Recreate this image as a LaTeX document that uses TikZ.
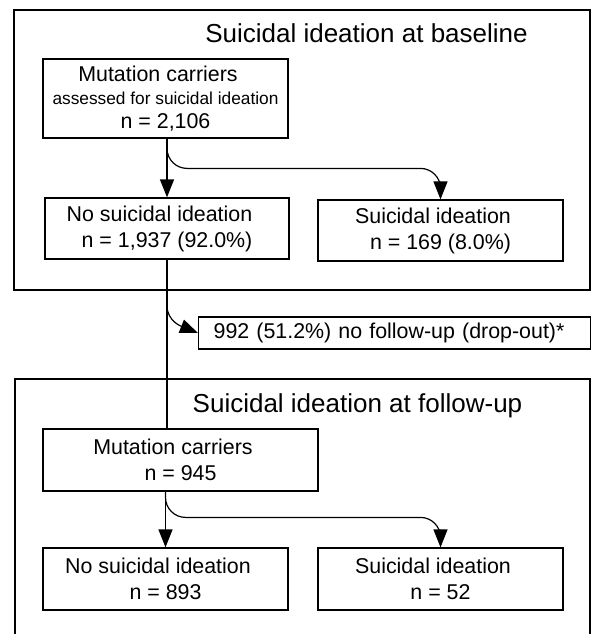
\documentclass[tikz,border=0pt]{standalone}
\usepackage{fontspec}
\setmainfont{Liberation Sans}
\usetikzlibrary{arrows.meta}
\usetikzlibrary{calc}
\newcommand\gap{\hspace*{15pt}}
\newcommand\mainsize{\fontsize{21.4pt}{26pt}\selectfont}
\newcommand\smallsize{\fontsize{17.3pt}{20pt}\selectfont}
\newcommand\titlesize{\fontsize{26pt}{30pt}\selectfont}
\tikzstyle{box}=[draw,line width=1.2pt,align=center,inner sep=0pt,font=\mainsize]
\tikzstyle{grp}=[draw,line width=1.2pt]
\tikzstyle{ttl}=[anchor=base,inner sep=0pt,font=\titlesize]
\tikzstyle{rwhead}=[>/.tip={Triangle[length=18pt,width=14pt]}]
\tikzstyle{rw} =[line width=1.2pt,rwhead,->]
\begin{document}
\begin{tikzpicture}[x=1pt,y=-1pt]
	\useasboundingbox (0,0) rectangle (591,634);
	% baseline
	\draw[grp] (14,10) rectangle (590,290);
	\node[ttl] (t1) at (366.5,42) {Suicidal ideation at baseline};
	\node[box,minimum width=245pt,minimum height=79pt,font=\fontsize{21.4pt}{23.5pt}\selectfont] (top) at (165.5,98.5)
		{Mutation carriers\gap\\{\smallsize assessed for suicidal ideation}\\n = 2,106};
	\node[box,minimum width=244pt,minimum height=61pt] (no1)  at (167,228.5)   {No suicidal ideation\gap\\n = 1,937 (92.0\%)};
	\node[box,minimum width=245pt,minimum height=61pt] (yes1) at (440.5,230.5) {Suicidal ideation\gap\\n = 169 (8.0\%)};
	% drop-out
	\node[box,anchor=west,align=left,text width=362pt,inner xsep=15pt,minimum height=32pt] (drop) at (198,333)
		{992 (51.2\%) no follow-up (drop-out)*};
	% follow-up
	\draw[grp] (15,640) |- (590,379) -- (590,640);
	\node[ttl] (t2) at (357.5,412) {Suicidal ideation at follow-up};
	\node[box,minimum width=275pt,minimum height=62pt] (mc2)  at (180.5,460) {Mutation carriers\gap\\n = 945};
	\node[box,minimum width=245pt,minimum height=62pt] (no2)  at (165.5,579) {No suicidal ideation\gap\\n = 893};
	\node[box,minimum width=245pt,minimum height=62pt] (yes2) at (440.5,579) {Suicidal ideation\gap\\n = 52};
	\draw[rw] (no1.north |- top.south) -- (no1.north);
	\draw[rw,rounded corners=20pt] (no1.north |- top.south) |- ($(yes1.north)+(0,-31)$) -- (yes1.north);
	\draw[line width=1.2pt] (no1.south) -- (no1.south |- mc2.north);
	\draw[rw] ($(no1.south)+(0,46)$) to[out=-90,in=158] (drop.west);
	\draw[rw] (no2.north |- mc2.south) -- (no2.north);
	\draw[rw,rounded corners=20pt] (no2.north |- mc2.south) |- ($(yes2.north)+(0,-30)$) -- (yes2.north);
\end{tikzpicture}
\end{document}
